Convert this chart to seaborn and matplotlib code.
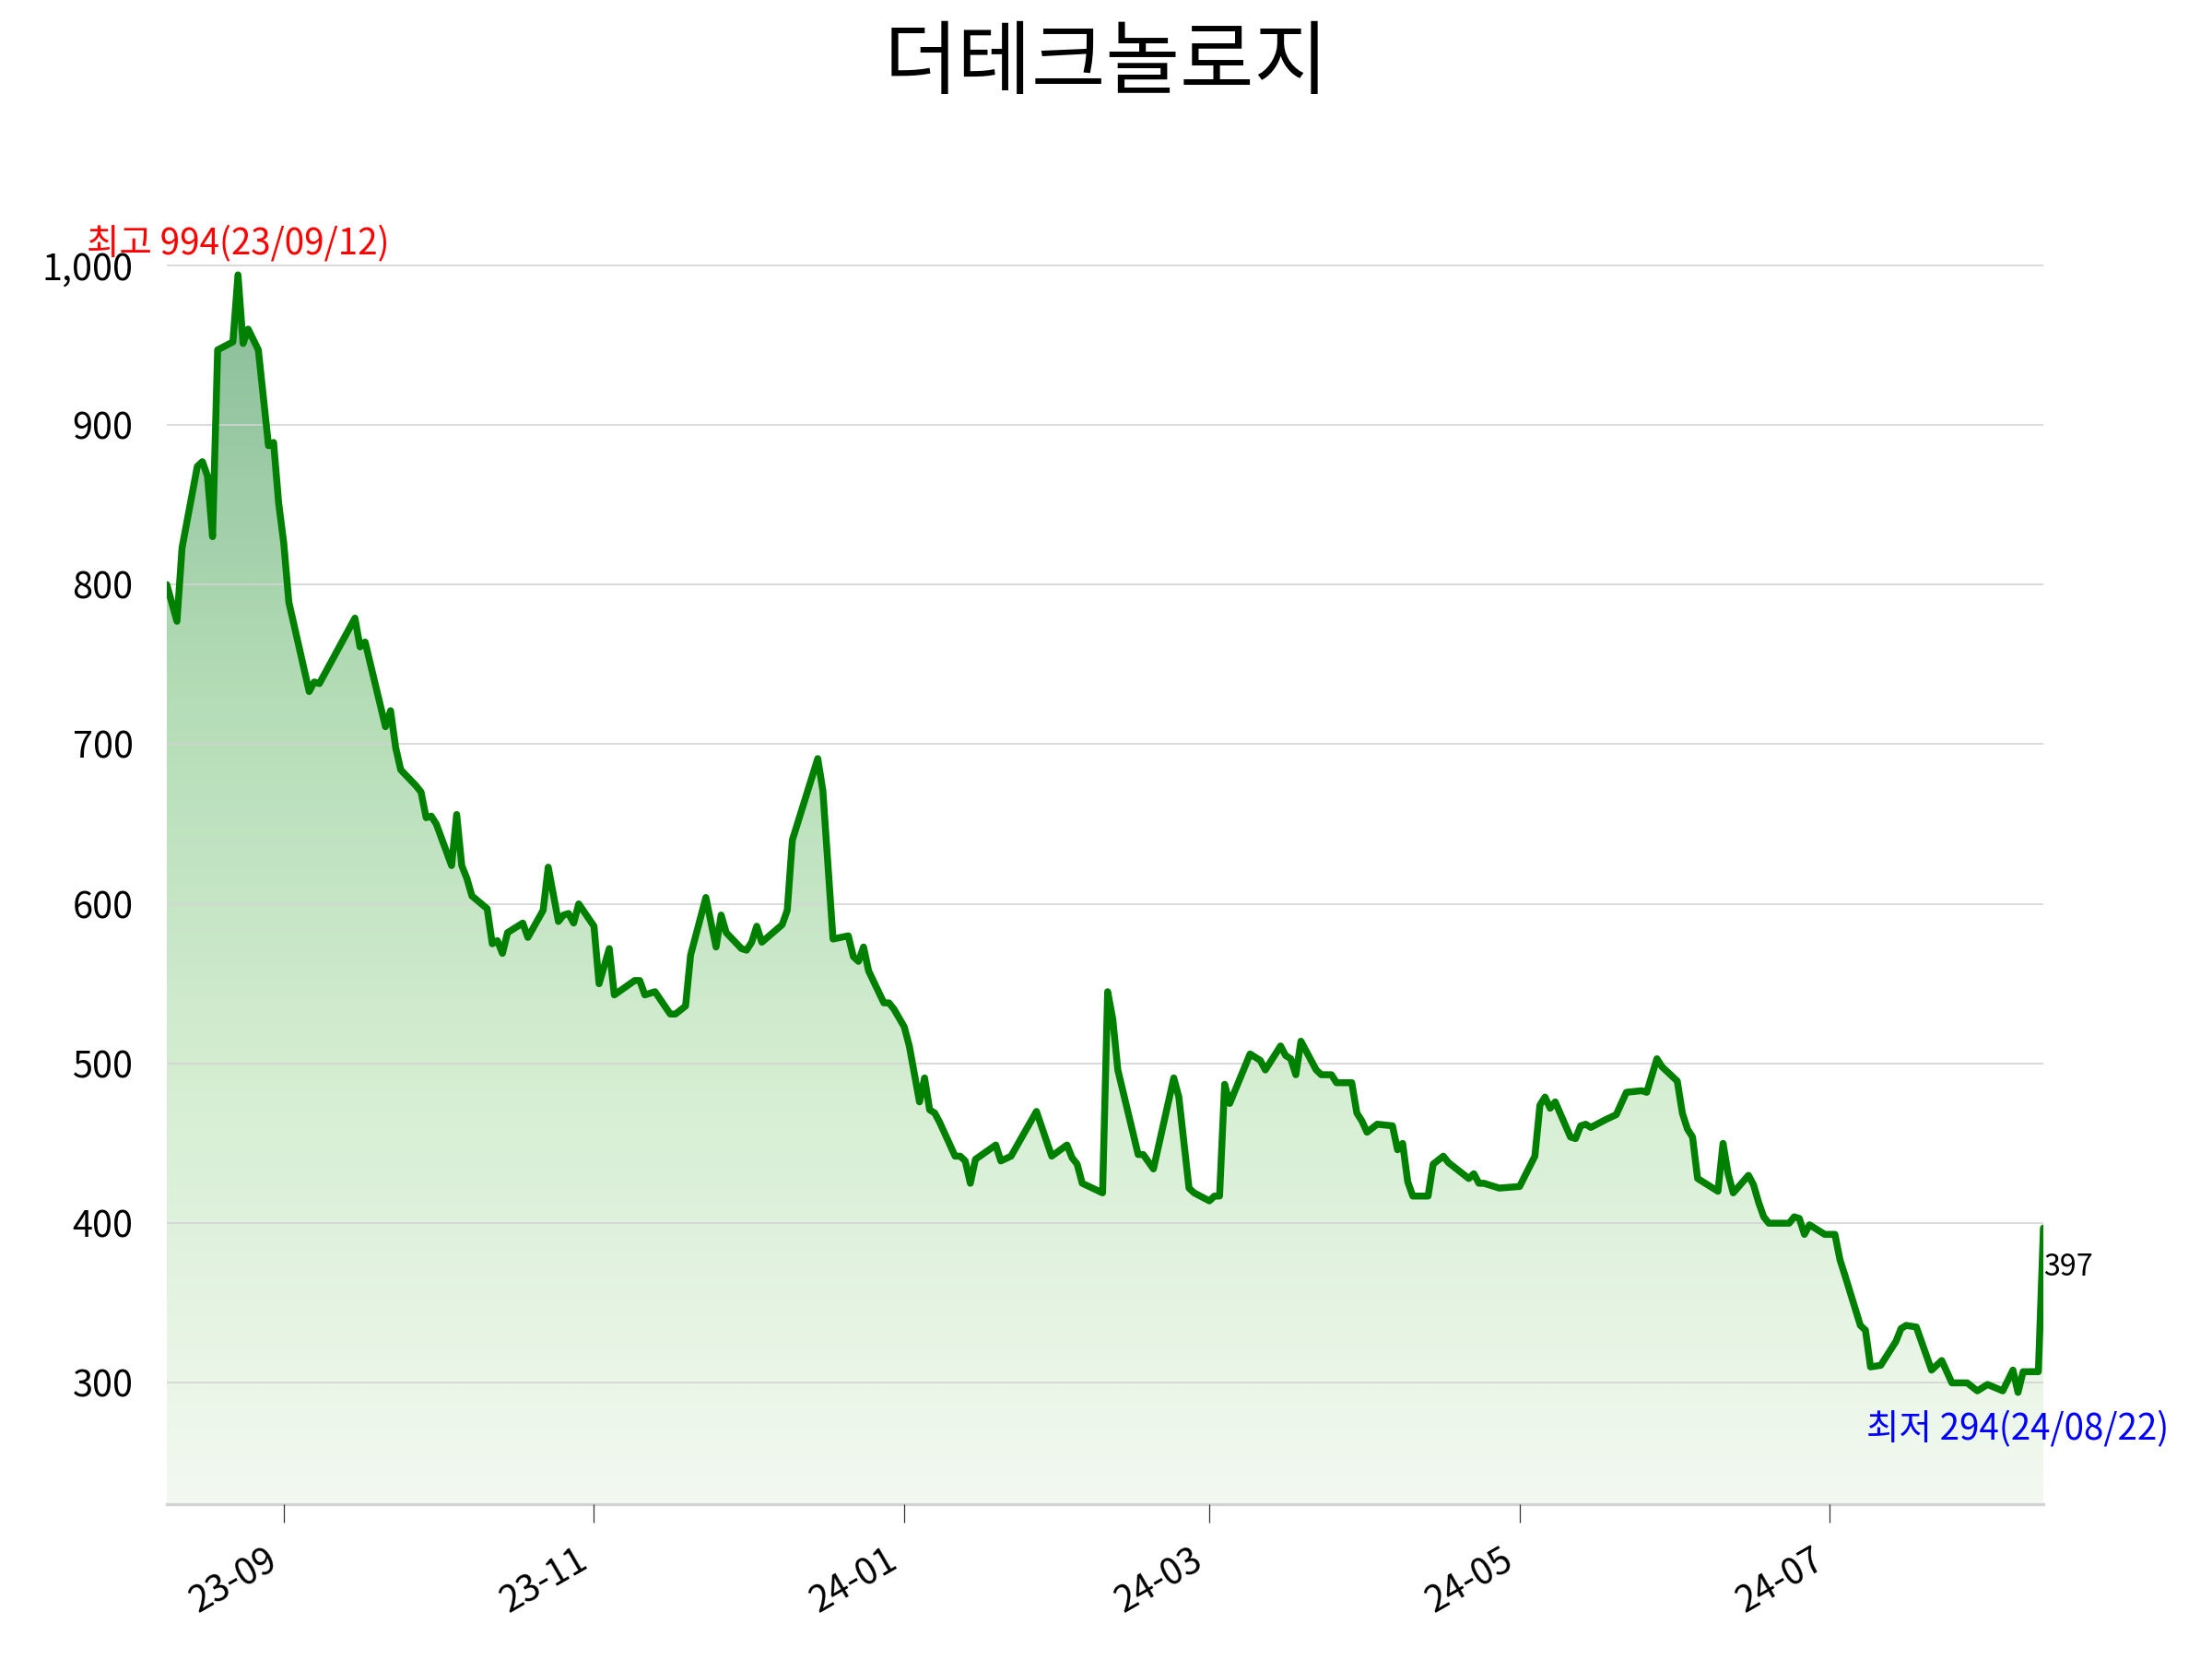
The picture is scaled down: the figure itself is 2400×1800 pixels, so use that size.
import matplotlib
matplotlib.use("Agg")
import numpy as np
import pandas as pd
import matplotlib.pyplot as plt
import matplotlib.dates as mdates
from matplotlib.ticker import MultipleLocator, FuncFormatter
from matplotlib.colors import LinearSegmentedColormap
import seaborn as sns

# 데이터
title = "더테크놀로지"

dates = [
    "2023-08-09", "2023-08-11", "2023-08-12", "2023-08-15", "2023-08-16", "2023-08-17",
    "2023-08-18", "2023-08-19", "2023-08-22", "2023-08-23", "2023-08-24", "2023-08-25",
    "2023-08-27", "2023-08-29", "2023-08-30", "2023-08-31", "2023-09-01", "2023-09-02",
    "2023-09-06", "2023-09-07", "2023-09-08", "2023-09-15", "2023-09-16", "2023-09-17",
    "2023-09-21", "2023-09-22", "2023-09-23", "2023-09-24", "2023-09-27", "2023-09-28",
    "2023-09-29", "2023-09-30", "2023-10-01", "2023-10-04", "2023-10-05", "2023-10-06",
    "2023-10-07", "2023-10-08", "2023-10-11", "2023-10-12", "2023-10-13", "2023-10-14",
    "2023-10-15", "2023-10-18", "2023-10-19", "2023-10-22", "2023-10-23", "2023-10-25",
    "2023-10-26", "2023-10-27", "2023-10-28", "2023-10-29", "2023-11-01", "2023-11-02",
    "2023-11-04", "2023-11-05", "2023-11-09", "2023-11-10", "2023-11-11", "2023-11-13",
    "2023-11-16", "2023-11-17", "2023-11-19", "2023-11-20", "2023-11-23", "2023-11-25",
    "2023-11-26", "2023-11-27", "2023-11-30", "2023-12-01", "2023-12-02", "2023-12-03",
    "2023-12-04", "2023-12-08", "2023-12-09", "2023-12-10", "2023-12-15", "2023-12-16",
    "2023-12-18", "2023-12-21", "2023-12-22", "2023-12-23", "2023-12-24", "2023-12-25",
    "2023-12-28", "2023-12-29", "2023-12-30", "2024-01-01", "2024-01-02", "2024-01-04",
    "2024-01-05", "2024-01-06", "2024-01-07", "2024-01-08", "2024-01-11", "2024-01-12",
    "2024-01-13", "2024-01-14", "2024-01-15", "2024-01-19", "2024-01-20", "2024-01-22",
    "2024-01-27", "2024-01-30", "2024-02-02", "2024-02-03", "2024-02-04", "2024-02-05",
    "2024-02-09", "2024-02-10", "2024-02-11", "2024-02-12", "2024-02-16", "2024-02-17",
    "2024-02-19", "2024-02-23", "2024-02-24", "2024-02-26", "2024-02-27", "2024-03-01",
    "2024-03-02", "2024-03-03", "2024-03-04", "2024-03-05", "2024-03-09", "2024-03-11",
    "2024-03-12", "2024-03-15", "2024-03-16", "2024-03-17", "2024-03-18", "2024-03-19",
    "2024-03-22", "2024-03-23", "2024-03-25", "2024-03-26", "2024-03-29", "2024-03-30",
    "2024-03-31", "2024-04-01", "2024-04-03", "2024-04-06", "2024-04-07", "2024-04-08",
    "2024-04-09", "2024-04-10", "2024-04-13", "2024-04-14", "2024-04-16", "2024-04-17",
    "2024-04-21", "2024-04-22", "2024-04-23", "2024-04-24", "2024-04-27", "2024-05-01",
    "2024-05-04", "2024-05-05", "2024-05-06", "2024-05-07", "2024-05-08", "2024-05-11",
    "2024-05-12", "2024-05-13", "2024-05-14", "2024-05-15", "2024-05-18", "2024-05-20",
    "2024-05-22", "2024-05-25", "2024-05-26", "2024-05-28", "2024-05-29", "2024-06-01",
    "2024-06-02", "2024-06-03", "2024-06-04", "2024-06-05", "2024-06-09", "2024-06-10",
    "2024-06-11", "2024-06-12", "2024-06-15", "2024-06-16", "2024-06-17", "2024-06-18",
    "2024-06-19", "2024-06-23", "2024-06-24", "2024-06-25", "2024-06-26", "2024-06-27",
    "2024-06-30", "2024-07-02", "2024-07-03", "2024-07-04", "2024-07-07", "2024-07-08",
    "2024-07-09", "2024-07-11", "2024-07-14", "2024-07-15", "2024-07-16", "2024-07-18",
    "2024-07-21", "2024-07-23", "2024-07-25", "2024-07-28", "2024-07-30", "2024-08-01",
    "2024-08-04", "2024-08-06", "2024-08-07", "2024-08-08", "2024-08-11", "2024-08-12",
]

prices = [
    800, 777, 823, 874, 877, 868,
    830, 947, 952, 994, 951, 960,
    947, 887, 889, 851, 826, 789,
    733, 739, 738, 779, 761, 764,
    711, 721, 698, 684, 674, 670,
    654, 655, 650, 624, 656, 624,
    616, 605, 597, 575, 577, 569,
    582, 588, 579, 596, 623, 589,
    593, 594, 588, 600, 586, 550,
    572, 543, 552, 552, 543, 545,
    531, 531, 536, 568, 604, 573,
    593, 582, 572, 571, 576, 586,
    576, 587, 596, 640, 691, 671,
    578, 580, 567, 564, 573, 558,
    538, 538, 534, 523, 511, 476,
    491, 471, 469, 463, 442, 442,
    439, 425, 440, 449, 439, 442,
    470, 442, 449, 441, 437, 425,
    419, 545, 528, 496, 443, 443,
    434, 491, 479, 422, 419, 414,
    417, 417, 487, 475, 506, 502,
    496, 511, 505, 503, 493, 514,
    496, 493, 493, 488, 488, 469,
    464, 457, 462, 461, 446, 450,
    426, 417, 417, 437, 442, 438,
    428, 431, 425, 425, 422, 423,
    442, 474, 479, 472, 476, 454,
    453, 461, 462, 460, 465, 468,
    482, 483, 482, 503, 498, 489,
    469, 459, 454, 428, 420, 450,
    431, 419, 430, 424, 413, 404,
    400, 400, 404, 403, 393, 399,
    393, 393, 377, 367, 336, 333,
    310, 311, 326, 334, 336, 335,
    308, 314, 300, 300, 295, 299,
    295, 308, 294, 307, 307, 397,
]

high_label_date = "23/09/12"
low_label_date = "24/08/22"

df = pd.DataFrame({"date": pd.to_datetime(dates), "price": prices})

# 스타일
sns.set_style("white")
plt.rcParams["font.family"] = ["Noto Sans CJK KR", "DejaVu Sans"]
plt.rcParams["text.color"] = "black"
plt.rcParams["xtick.color"] = "black"
plt.rcParams["ytick.color"] = "black"

fig = plt.figure(figsize=(16, 12), dpi=150)
ax = fig.add_axes([0.0754, 0.0933, 0.8484, 0.8084])

lo = df["price"].min()
hi = df["price"].max()
rng = hi - lo
ymin, ymax = lo - rng * 0.1, hi + rng * 0.1

# 그라데이션 채우기
x = mdates.date2num(df["date"])
fill = ax.fill_between(x, df["price"], ymin, facecolor="none", edgecolor="none")
cmap = LinearSegmentedColormap.from_list("grad", ["#f3f9f1", "#d6eed3", "#b3dcb5", "#88bd98"])
grad = np.linspace(0, 1, 256).reshape(-1, 1)
im = ax.imshow(grad, cmap=cmap, aspect="auto", origin="lower",
               extent=[x[0], x[-1], ymin, hi], zorder=1)
im.set_clip_path(fill.get_paths()[0], transform=ax.transData)

# 라인
sns.lineplot(x=df["date"], y=df["price"], color="green", lw=3.6, ax=ax, zorder=3)

ax.set_xlim(x[0], x[-1])
ax.set_ylim(ymin, ymax)
ax.set_xlabel("")
ax.set_ylabel("")

# 축, 격자
ax.set_axisbelow(False)
ax.yaxis.grid(True, color="#d3d3d3", lw=0.8, zorder=2)
ax.xaxis.grid(False)
for side in ["left", "top", "right"]:
    ax.spines[side].set_visible(False)
ax.spines["bottom"].set_color("#d3d3d3")
ax.spines["bottom"].set_linewidth(1.6)

ax.yaxis.set_major_locator(MultipleLocator(100))
ax.yaxis.set_major_formatter(FuncFormatter(lambda v, p: f"{v:,.0f}"))
ax.xaxis.set_major_locator(mdates.MonthLocator(bymonth=[1, 3, 5, 7, 9, 11]))
ax.xaxis.set_major_formatter(mdates.DateFormatter("%y-%m"))
ax.tick_params(axis="both", length=9.5, width=0.6, color="#333333", pad=8)
ax.tick_params(axis="y", labelsize=19)
ax.tick_params(axis="x", labelsize=19, bottom=True, pad=10)
plt.setp(ax.get_xticklabels(), rotation=30, ha="right")

# 최고, 최저, 마지막 값
i_hi = df["price"].idxmax()
i_lo = df["price"].idxmin()
ax.annotate(f"최고 {hi}({high_label_date})", xy=(df["date"][i_hi], hi),
            xytext=(0, 6), textcoords="offset points", ha="center", va="bottom",
            color="red", fontsize=18.5, annotation_clip=False)
ax.annotate(f"최저 {lo}({low_label_date})", xy=(df["date"][i_lo], lo),
            xytext=(0, -10), textcoords="offset points", ha="center", va="top",
            color="blue", fontsize=18.5, annotation_clip=False)
last = df["price"].iloc[-1]
ax.annotate(f"{last}", xy=(df["date"].iloc[-1], last),
            xytext=(0, -13), textcoords="offset points", ha="left", va="top",
            color="black", fontsize=15.5, annotation_clip=False)

fig.text(0.5, 1 - 70 / 1800, title, ha="center", va="center", fontsize=42)

fig.savefig("out.png", dpi=150)
